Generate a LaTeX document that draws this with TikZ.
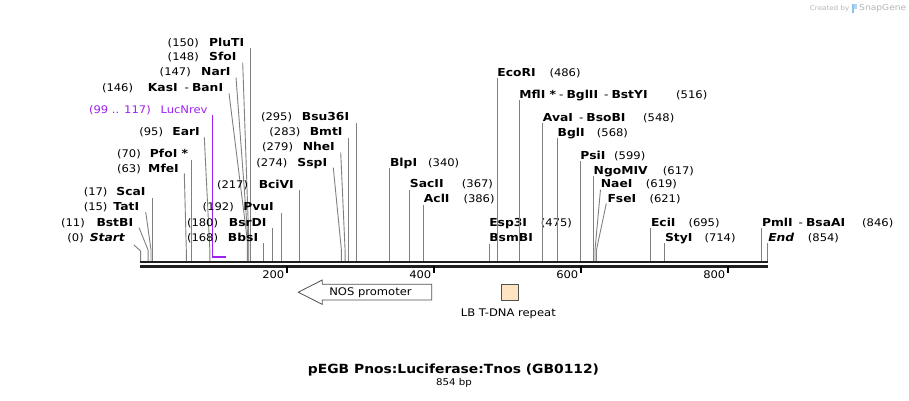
\documentclass[tikz,border=0pt]{standalone}
\usepackage{fontspec}
\setmainfont{DejaVu Sans}[FakeStretch=1.1]
\newfontfamily\enzfam{DejaVu Sans}[FakeStretch=1.12, UprightFont={* Bold}, ItalicFont={* Bold Oblique}, BoldFont={* Bold}, BoldItalicFont={* Bold Oblique}]
\definecolor{cutc}{RGB}{128,128,128}
\definecolor{primc}{RGB}{160,32,240}
\definecolor{lbfill}{RGB}{255,228,196}
\definecolor{featline}{RGB}{80,80,80}
\definecolor{logogray}{RGB}{180,180,180}
\definecolor{logoblue}{RGB}{140,195,235}
\newcommand\bpx[1]{140+0.735*#1}
\newcommand\sepdash{{\rmfamily\upshape -}}
\tikzset{
  lab/.style={inner sep=0pt, font=\fontsize{10.5}{12.6}\selectfont},
  enz/.style={inner sep=0pt, font=\fontsize{11}{13}\selectfont\enzfam},
  enzit/.style={inner sep=0pt, font=\fontsize{11}{13}\selectfont\enzfam\itshape},
  cut/.style={draw=cutc, line width=0.9pt},
  ruler/.style={draw=black!88, line width=2.4pt},
  tick/.style={draw=black, line width=1.8pt},
}
\begin{document}
\begin{tikzpicture}[x=1pt,y=-1pt]
\useasboundingbox (0,0) rectangle (909,400);

% ---------- logo ----------
\node[inner sep=0pt, anchor=base east, text=logogray, font=\fontsize{6.5}{8}\selectfont] (cby) at (849.5,10) {Created by};
\fill[logoblue] (851.5,3.5) rectangle (853.8,12.5);
\fill[logoblue!70] (853.8,3.5) rectangle (856.5,8.5);
\node[inner sep=0pt, anchor=base west, text=logogray, font=\fontsize{8.3}{10}\selectfont] (sg) at (859,10.5) {SnapGene};

% ---------- ruler ----------
\coordinate (r0) at ({\bpx{0}},262);
\coordinate (r1) at ({\bpx{854}},262);
\coordinate (q0) at ({\bpx{0}},266.3);
\coordinate (q1) at ({\bpx{854}},266.3);
\draw[ruler] (r0) -- (r1);
\draw[ruler] (q0) -- (q1);
\foreach \t in {200,400,600,800}{
  \coordinate (t\t) at ({\bpx{\t}},266);
  \draw[tick] (t\t) -- ++(0,7);
  \node[lab, anchor=base east] (tl\t) at ({\bpx{\t}-2.5},278.5) {\t};
}

% ---------- left side labels ----------
% PluTI
\node[enz, anchor=base east] (PluTI) at (244.3,46) {PluTI};
\node[lab, anchor=base east] (nPluTI) at (199,46) {(150)};
\coordinate (cPluTI) at ({\bpx{150}},261);
\draw[cut] (PluTI.base east -| cPluTI) ++(0,2) -- (cPluTI);
% SfoI
\node[enz, anchor=base east] (SfoI) at (236.7,60.5) {SfoI};
\node[lab, anchor=base east] (nSfoI) at (199,60.5) {(148)};
\coordinate (kSfoI) at ({\bpx{148}},240);
\coordinate (cSfoI) at ({\bpx{148}},261);
\draw[cut] (SfoI.base east) ++(6,2) -- (kSfoI) -- (cSfoI);
% NarI
\node[enz, anchor=base east] (NarI) at (230.7,75.7) {NarI};
\node[lab, anchor=base east] (nNarI) at (191,75.7) {(147)};
\coordinate (kNarI) at ({\bpx{147}},240);
\coordinate (cNarI) at ({\bpx{147}},261);
\draw[cut] (NarI.base east) ++(5.3,1.8) -- (kNarI) -- (cNarI);
% KasI - BanI
\node[enz, anchor=base east] (KasI) at (223.3,91) {KasI\hspace{7pt}\sepdash\hspace{3pt}BanI};
\node[lab, anchor=base east] (nKasI) at (133.3,91) {(146)};
\coordinate (kKasI) at ({\bpx{146}},240);
\coordinate (cKasI) at ({\bpx{146}},261);
\draw[cut] (KasI.base east) ++(5.7,2.3) -- (kKasI) -- (cKasI);
% LucNrev primer
\node[lab, text=primc, anchor=base east] (LucNrev) at (207.7,113) {LucNrev};
\node[lab, text=primc, anchor=base east] (nLucNrev) at (151,113) {(99 .. 117)};
\coordinate (pA) at ({\bpx{99}},257.3);
\coordinate (pB) at ({\bpx{117}},257.3);
\draw[primc, line width=1.3pt] (LucNrev.base east -| pA) ++(0,2) -- (pA);
\draw[primc, line width=2.2pt] ([xshift=-0.65pt]pA) -- (pB);
% EarI
\node[enz, anchor=base east] (EarI) at (200,135) {EarI};
\node[lab, anchor=base east] (nEarI) at (163.3,135) {(95)};
\coordinate (kEarI) at ({\bpx{95}},250);
\coordinate (cEarI) at ({\bpx{95}},261);
\draw[cut] (EarI.base east) ++(4.3,2.3) -- (kEarI) -- (cEarI);
% PfoI
\node[enz, anchor=base east] (PfoI) at (188.3,157) {PfoI *};
\node[lab, anchor=base east] (nPfoI) at (141,157) {(70)};
\coordinate (cPfoI) at ({\bpx{70}},261);
\draw[cut] (PfoI.base east -| cPfoI) ++(0,2.5) -- (cPfoI);
% MfeI
\node[enz, anchor=base east] (MfeI) at (179,172) {MfeI};
\node[lab, anchor=base east] (nMfeI) at (141,172) {(63)};
\coordinate (kMfeI) at ({\bpx{63}},250);
\coordinate (cMfeI) at ({\bpx{63}},261);
\draw[cut] (MfeI.base east) ++(5.3,1.5) -- (kMfeI) -- (cMfeI);
% ScaI
\node[enz, anchor=base east] (ScaI) at (145.7,195.7) {ScaI};
\node[lab, anchor=base east] (nScaI) at (107.7,195.7) {(17)};
\coordinate (cScaI) at ({\bpx{17}},261);
\draw[cut] (ScaI.base east -| cScaI) ++(0,2.5) -- (cScaI);
% TatI
\node[enz, anchor=base east] (TatI) at (139.3,210.7) {TatI};
\node[lab, anchor=base east] (nTatI) at (107.7,210.7) {(15)};
\coordinate (kTatI) at ({\bpx{15}},250);
\coordinate (cTatI) at ({\bpx{15}},261);
\draw[cut] (TatI.base east) ++(6.4,1.2) -- (kTatI) -- (cTatI);
% BstBI
\node[enz, anchor=base east] (BstBI) at (133.3,226) {BstBI};
\node[lab, anchor=base east] (nBstBI) at (85,226) {(11)};
\coordinate (kBstBI) at ({\bpx{11}},250);
\coordinate (cBstBI) at ({\bpx{11}},261);
\draw[cut] (BstBI.base east) ++(5.7,1.6) -- (kBstBI) -- (cBstBI);
% Start
\node[enzit, anchor=base east] (Start) at (125,241) {Start};
\node[lab, anchor=base east] (nStart) at (84,241) {(0)};
\coordinate (kStart) at ({\bpx{0}+0.6},251);
\coordinate (cStart) at ({\bpx{0}+0.6},261);
\draw[cut] (Start.base east) ++(9,4) -- (kStart) -- (cStart);

% ---------- middle labels ----------
% BbsI
\node[enz, anchor=base east] (BbsI) at (258.3,241) {BbsI};
\node[lab, anchor=base east] (nBbsI) at (218.3,241) {(168)};
\coordinate (cBbsI) at ({\bpx{168}},261);
\draw[cut] (BbsI.base east -| cBbsI) ++(0,2) -- (cBbsI);
% BsrDI
\node[enz, anchor=base east] (BsrDI) at (266.7,226) {BsrDI};
\node[lab, anchor=base east] (nBsrDI) at (218.3,226) {(180)};
\coordinate (cBsrDI) at ({\bpx{180}},261);
\draw[cut] (BsrDI.base east -| cBsrDI) ++(0,2.3) -- (cBsrDI);
% PvuI
\node[enz, anchor=base east] (PvuI) at (274,210.7) {PvuI};
\node[lab, anchor=base east] (nPvuI) at (234,210.7) {(192)};
\coordinate (cPvuI) at ({\bpx{192}},261);
\draw[cut] (PvuI.base east -| cPvuI) ++(0,2.5) -- (cPvuI);
% BciVI
\node[enz, anchor=base east] (BciVI) at (294,188.3) {BciVI};
\node[lab, anchor=base east] (nBciVI) at (248.3,188.3) {(217)};
\coordinate (cBciVI) at ({\bpx{217}},261);
\draw[cut] (BciVI.base east -| cBciVI) ++(0,1.7) -- (cBciVI);
% SspI
\node[enz, anchor=base east] (SspI) at (327.3,166) {SspI};
\node[lab, anchor=base east] (nSspI) at (287.7,166) {(274)};
\coordinate (kSspI) at ({\bpx{274}},250);
\coordinate (cSspI) at ({\bpx{274}},261);
\draw[cut] (SspI.base east) ++(6,1.7) -- (kSspI) -- (cSspI);
% NheI
\node[enz, anchor=base east] (NheI) at (335,150.7) {NheI};
\node[lab, anchor=base east] (nNheI) at (293.3,150.7) {(279)};
\coordinate (kNheI) at ({\bpx{279}},250);
\coordinate (cNheI) at ({\bpx{279}},261);
\draw[cut] (NheI.base east) ++(5.7,1.6) -- (kNheI) -- (cNheI);
% BmtI
\node[enz, anchor=base east] (BmtI) at (342.7,135.7) {BmtI};
\node[lab, anchor=base east] (nBmtI) at (300.7,135.7) {(283)};
\coordinate (cBmtI) at ({\bpx{283}},261);
\draw[cut] (BmtI.base east -| cBmtI) ++(0,2.6) -- (cBmtI);
% Bsu36I
\node[enz, anchor=base east] (Bsu36I) at (349.3,120.7) {Bsu36I};
\node[lab, anchor=base east] (nBsu36I) at (292.3,120.7) {(295)};
\coordinate (cBsu36I) at ({\bpx{295}},261);
\draw[cut] (Bsu36I.base east -| cBsu36I) ++(0,2.5) -- (cBsu36I);

% ---------- right side labels ----------
% BlpI
\node[enz, anchor=base west] (BlpI) at ({\bpx{340}},166) {BlpI};
\node[lab, anchor=base west] (nBlpI) at (428,166) {(340)};
\coordinate (cBlpI) at ({\bpx{340}},261);
\draw[cut] (BlpI.base west -| cBlpI) ++(0,2) -- (cBlpI);
% SacII
\node[enz, anchor=base west] (SacII) at ({\bpx{367}},187.7) {SacII};
\node[lab, anchor=base west] (nSacII) at (461.7,187.7) {(367)};
\coordinate (cSacII) at ({\bpx{367}},261);
\draw[cut] (SacII.base west -| cSacII) ++(0,2.3) -- (cSacII);
% AclI
\node[enz, anchor=base west] (AclI) at ({\bpx{386}},202.7) {AclI};
\node[lab, anchor=base west] (nAclI) at (463.3,202.7) {(386)};
\coordinate (cAclI) at ({\bpx{386}},261);
\draw[cut] (AclI.base west -| cAclI) ++(0,2.3) -- (cAclI);
% Esp3I / BsmBI
\node[enz, anchor=base west] (Esp3I) at ({\bpx{475}},226) {Esp3I};
\node[lab, anchor=base west] (nEsp3I) at (540.7,226) {(475)};
\node[enz, anchor=base west] (BsmBI) at ({\bpx{475}},241) {BsmBI};
\coordinate (cEsp3I) at ({\bpx{475}},261);
\draw[cut] (BsmBI.base west -| cEsp3I) ++(0,2.5) -- (cEsp3I);
% EcoRI
\node[enz, anchor=base west] (EcoRI) at ({\bpx{486}},76.7) {EcoRI};
\node[lab, anchor=base west] (nEcoRI) at (549.3,76.7) {(486)};
\coordinate (cEcoRI) at ({\bpx{486}},261);
\draw[cut] (EcoRI.base west -| cEcoRI) ++(0,1.6) -- (cEcoRI);
% MflI - BglII - BstYI
\node[enz, anchor=base west] (MflI) at ({\bpx{516}},98.3) {MflI *\hspace{3pt}\sepdash\hspace{3pt}BglII\hspace{6pt}\sepdash\hspace{3pt}BstYI};
\node[lab, anchor=base west] (nMflI) at (676,98.3) {(516)};
\coordinate (cMflI) at ({\bpx{516}},261);
\draw[cut] (MflI.base west -| cMflI) ++(0,1.7) -- (cMflI);
% AvaI - BsoBI
\node[enz, anchor=base west] (AvaI) at ({\bpx{548}},121.7) {AvaI\hspace{6pt}\sepdash\hspace{3pt}BsoBI};
\node[lab, anchor=base west] (nAvaI) at (643,121.7) {(548)};
\coordinate (cAvaI) at ({\bpx{548}},261);
\draw[cut] (AvaI.base west -| cAvaI) ++(0,1.6) -- (cAvaI);
% BglI
\node[enz, anchor=base west] (BglI) at ({\bpx{568}},136.7) {BglI};
\node[lab, anchor=base west] (nBglI) at (596.7,136.7) {(568)};
\coordinate (cBglI) at ({\bpx{568}},261);
\draw[cut] (BglI.base west -| cBglI) ++(0,1.6) -- (cBglI);
% PsiI
\node[enz, anchor=base west] (PsiI) at ({\bpx{599}},159) {PsiI};
\node[lab, anchor=base west] (nPsiI) at (614,159) {(599)};
\coordinate (cPsiI) at ({\bpx{599}},261);
\draw[cut] (PsiI.base west -| cPsiI) ++(0,1.7) -- (cPsiI);
% NgoMIV
\node[enz, anchor=base west] (NgoMIV) at ({\bpx{617}},174.3) {NgoMIV};
\node[lab, anchor=base west] (nNgoMIV) at (662.7,174.3) {(617)};
\coordinate (cNgoMIV) at ({\bpx{617}},261);
\draw[cut] (NgoMIV.base west -| cNgoMIV) ++(0,1.7) -- (cNgoMIV);
% NaeI
\node[enz, anchor=base west] (NaeI) at (600.7,187.3) {NaeI};
\node[lab, anchor=base west] (nNaeI) at (645.7,187.3) {(619)};
\coordinate (kNaeI) at ({\bpx{619}},250);
\coordinate (cNaeI) at ({\bpx{619}},261);
\draw[cut] (NaeI.base west) ++(-0.2,2.3) -- (kNaeI) -- (cNaeI);
% FseI
\node[enz, anchor=base west] (FseI) at (607.3,202.3) {FseI};
\node[lab, anchor=base west] (nFseI) at (649.3,202.3) {(621)};
\coordinate (kFseI) at ({\bpx{621}},250);
\coordinate (cFseI) at ({\bpx{621}},261);
\draw[cut] (FseI.base west) ++(-1,1.2) -- (kFseI) -- (cFseI);
% EciI
\node[enz, anchor=base west] (EciI) at ({\bpx{695}},226) {EciI};
\node[lab, anchor=base west] (nEciI) at (688.3,226) {(695)};
\coordinate (cEciI) at ({\bpx{695}},261);
\draw[cut] (EciI.base west -| cEciI) ++(0,2) -- (cEciI);
% StyI
\node[enz, anchor=base west] (StyI) at ({\bpx{714}},241) {StyI};
\node[lab, anchor=base west] (nStyI) at (704.3,241) {(714)};
\coordinate (cStyI) at ({\bpx{714}},261);
\draw[cut] (StyI.base west -| cStyI) ++(0,2) -- (cStyI);
% PmlI - BsaAI
\node[enz, anchor=base west] (PmlI) at ({\bpx{846}},226) {PmlI\hspace{6pt}\sepdash\hspace{3pt}BsaAI};
\node[lab, anchor=base west] (nPmlI) at (862,226) {(846)};
\coordinate (cPmlI) at ({\bpx{846}},261);
\draw[cut] (PmlI.base west -| cPmlI) ++(0,2) -- (cPmlI);
% End
\node[enzit, anchor=base west] (End) at ({\bpx{854}+0.4},241) {End};
\node[lab, anchor=base west] (nEnd) at (807.7,241) {(854)};
\coordinate (cEnd) at ({\bpx{854}},261);
\draw[cut] (End.base west -| cEnd) ++(0,2) -- (cEnd);

% ---------- features ----------
\draw[featline, line width=0.8pt, fill=white]
  (431.7,284.3) -- (322.3,284.3) -- (322.3,280) -- (298.3,292.2)
  -- (322.3,304.4) -- (322.3,300) -- (431.7,300) -- cycle;
\node[lab, anchor=base] (nos) at (370.5,295.8) {NOS promoter};
\node[draw=featline, line width=0.8pt, fill=lbfill, inner sep=0pt,
  minimum width=16.6pt, minimum height=15.7pt] (lb) at (510,292.2) {};
\node[lab, anchor=base] (lbl) at (508.3,316.7) {LB T-DNA repeat};

% ---------- title ----------
\node[inner sep=0pt, anchor=base, font=\fontsize{12.6}{15}\selectfont\bfseries] (title) at (453.5,373.5) {pEGB Pnos:Luciferase:Tnos (GB0112)};
\node[inner sep=0pt, anchor=base, font=\fontsize{9.3}{11}\selectfont] (size) at (454,385.7) {854 bp};
\end{tikzpicture}
\end{document}
